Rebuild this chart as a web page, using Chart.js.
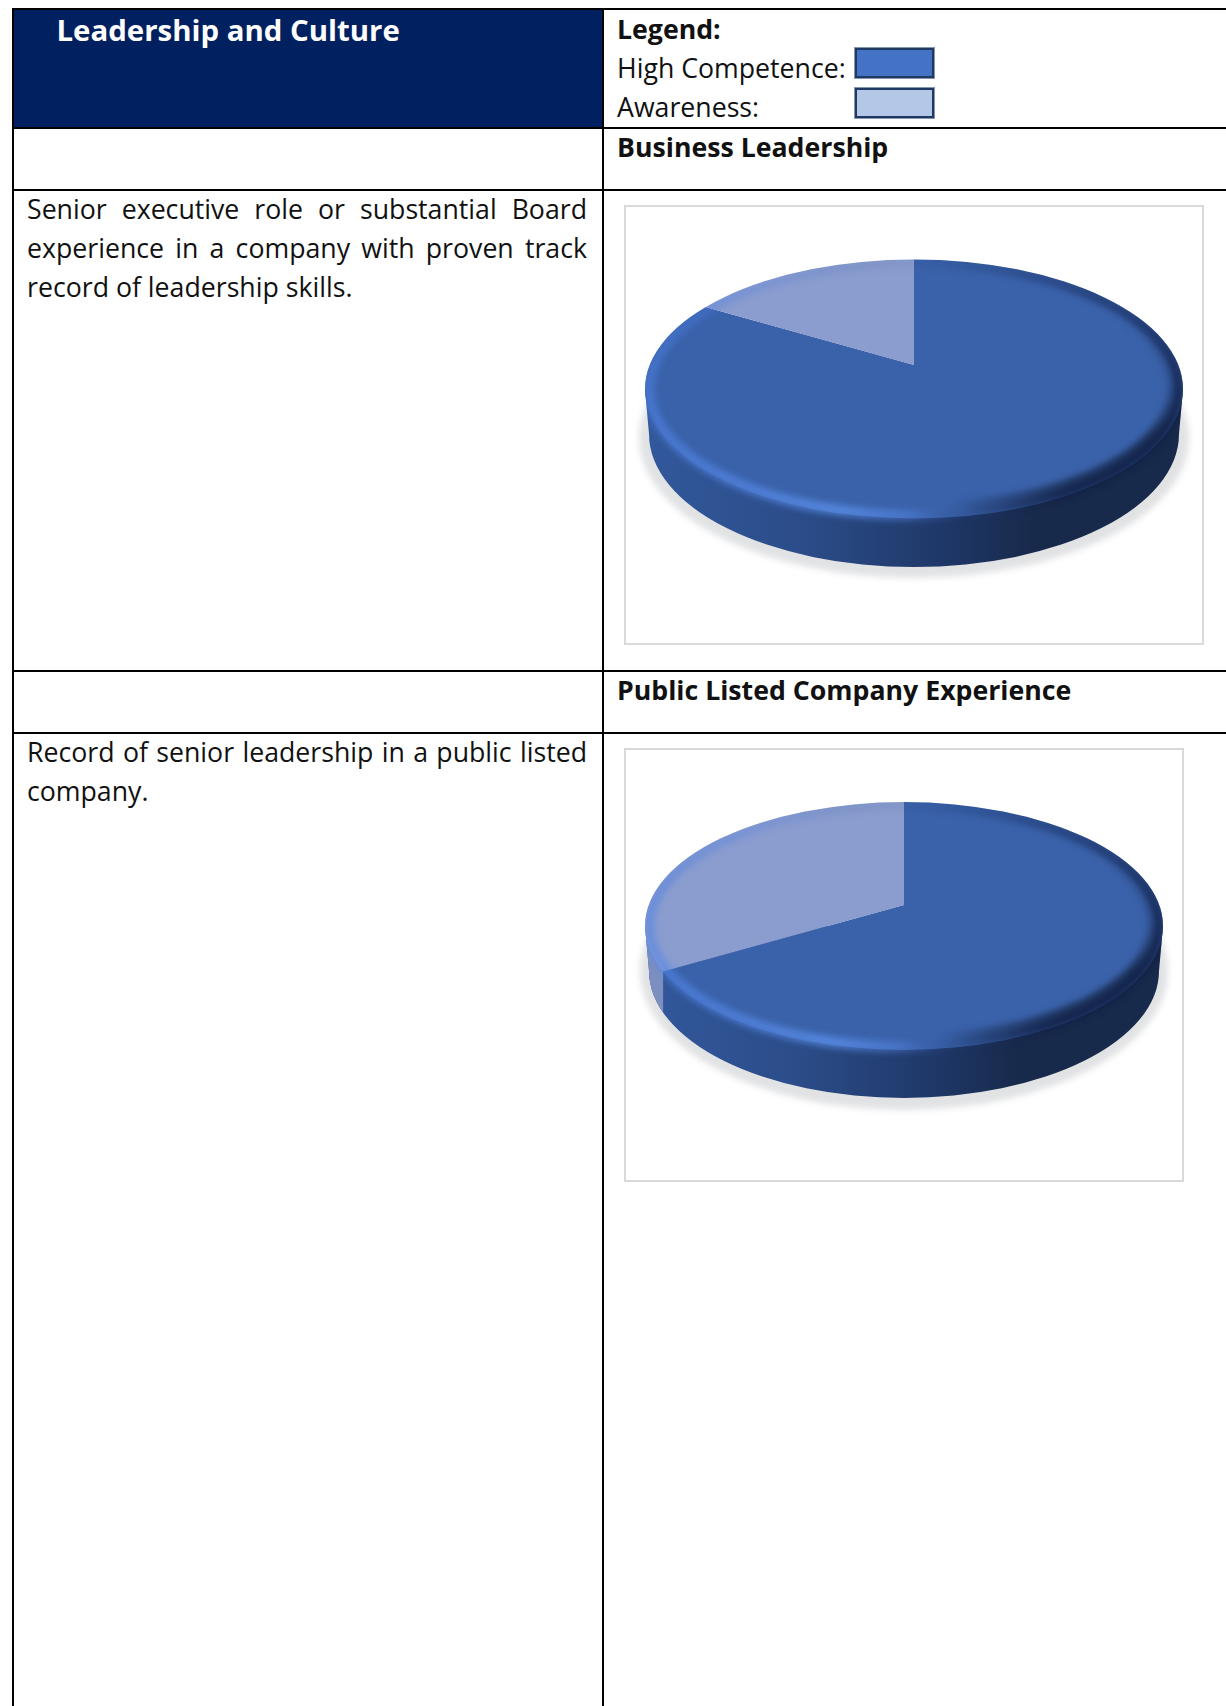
<!DOCTYPE html>
<html>
<head>
<meta charset="utf-8">
<title>Leadership and Culture</title>
<script src="https://cdn.jsdelivr.net/npm/chart.js@4"></script>
<style>
  html, body { margin: 0; width: 1226px; height: 1706px; background: #fff; overflow: hidden; }
  body { position: relative; font-family: "Open Sans", sans-serif; color: #111; }
  .rule { position: absolute; background: #000; }
  .text { position: absolute; white-space: nowrap; font-size: 26.7px; line-height: 39px; }
  .bold { font-weight: 700; }
  .justified { width: 560px; text-align: justify; text-align-last: justify; white-space: normal; }
  .navy { position: absolute; left: 13px; top: 9px; width: 590px; height: 119px; background: #002060; }
  .swatch { position: absolute; left: 855px; width: 75px; height: 26px; border: 2px solid #1f3864; box-shadow: 0 0 0 1px #8496b0; }
  .frame { position: absolute; box-sizing: border-box; border: 2px solid #d9d9d9; background: #fff; }
  .frame canvas { position: absolute; left: -2px; top: -2px; }
</style>
</head>
<body>
  <div class="navy"></div>
  <div class="rule" style="left:12px;top:8px;width:1214px;height:2px"></div>
  <div class="rule" style="left:12px;top:127px;width:1214px;height:2px"></div>
  <div class="rule" style="left:12px;top:189px;width:1214px;height:2px"></div>
  <div class="rule" style="left:12px;top:670px;width:1214px;height:2px"></div>
  <div class="rule" style="left:12px;top:732px;width:1214px;height:2px"></div>
  <div class="rule" style="left:12px;top:8px;width:2px;height:1698px"></div>
  <div class="rule" style="left:602px;top:8px;width:2px;height:1698px"></div>

  <div class="text bold" style="left:56.5px;top:11px;color:#fff;font-size:29.4px">Leadership and Culture</div>
  <div class="text bold" style="left:617px;top:9px">Legend:</div>
  <div class="text" style="left:617px;top:48px" id="legendHigh"></div>
  <div class="swatch" style="top:48px;background:#4472c4"></div>
  <div class="text" style="left:617px;top:87px" id="legendAware"></div>
  <div class="swatch" style="top:88px;background:#b4c7e7"></div>

  <div class="text bold" style="left:617px;top:127px" id="title1"></div>
  <div class="text justified" style="left:27px;top:189px">Senior executive role or substantial Board</div>
  <div class="text justified" style="left:27px;top:228px">experience in a company with proven track</div>
  <div class="text" style="left:27px;top:267px">record of leadership skills.</div>
  <div class="frame" style="left:624px;top:205px;width:580px;height:440px"><canvas id="pieOne" width="580" height="440"></canvas></div>

  <div class="text bold" style="left:617px;top:670px" id="title2"></div>
  <div class="text justified" style="left:27px;top:732px">Record of senior leadership in a public listed</div>
  <div class="text" style="left:27px;top:771px">company.</div>
  <div class="frame" style="left:624px;top:748px;width:560px;height:434px"><canvas id="pieTwo" width="560" height="434"></canvas></div>

<script>
// Skill categories and the director counts behind each pie
const categories = ['High Competence', 'Awareness'];
const businessLeadership = [5, 1];
const publicListedExperience = [4, 2];
const chartTitles = ['Business Leadership', 'Public Listed Company Experience'];

const faceColors = ['#3a62aa', '#8b9dcf'];

document.getElementById('legendHigh').textContent = categories[0] + ':';
document.getElementById('legendAware').textContent = categories[1] + ':';
document.getElementById('title1').textContent = chartTitles[0];
document.getElementById('title2').textContent = chartTitles[1];

// Extrudes a pie into a shallow tilted disc: ground shadow and wall go underneath,
// the slices are squashed into the top face, and a soft bevel goes over the rim.
const discPlugin = {
  id: 'disc',
  beforeDatasetsDraw(chart, args, o) {
    const ctx = chart.ctx;
    const arc = chart.getDatasetMeta(0).data[0];
    const k = o.ry / o.rx;

    // Soft shadow on the ground
    ctx.save();
    ctx.filter = 'blur(3px)';
    ctx.fillStyle = '#e1e2e4';
    ctx.beginPath();
    ctx.ellipse(o.cx, o.shadowY, o.shadowRx, o.shadowRy, 0, 0, Math.PI * 2);
    ctx.fill();
    ctx.restore();

    const wallPath = () => {
      ctx.beginPath();
      ctx.moveTo(o.cx - o.rx, o.cy);
      ctx.lineTo(o.cx - o.rx2, o.cy2);
      ctx.ellipse(o.cx, o.cy2, o.rx2, o.ry2, 0, Math.PI, 0, true);
      ctx.lineTo(o.cx + o.rx, o.cy);
      ctx.closePath();
    };

    // Dark wall, lit from the left
    const wall = ctx.createLinearGradient(o.cx - o.rx, 0, o.cx + o.rx, 0);
    wall.addColorStop(0, '#32589c');
    wall.addColorStop(0.3, '#2b4c88');
    wall.addColorStop(0.55, '#1f3869');
    wall.addColorStop(0.72, '#182a4c');
    wall.addColorStop(1, '#172a4b');
    ctx.fillStyle = wall;
    wallPath();
    ctx.fill();

    // Where the lighter slice reaches the front of the disc, its wall shows too
    const last = chart.getDatasetMeta(0).data[1];
    const dx = Math.cos(last.startAngle), dy = k * Math.sin(last.startAngle);
    const ay = o.apexY - o.cy;
    const A = dx * dx / (o.rx * o.rx) + dy * dy / (o.ry * o.ry);
    const B = 2 * ay * dy / (o.ry * o.ry);
    const C = ay * ay / (o.ry * o.ry) - 1;
    const t = (-B + Math.sqrt(B * B - 4 * A * C)) / (2 * A);
    const hitX = o.cx + t * dx, hitY = o.apexY + t * dy;
    if (hitY > o.cy) {
      ctx.save();
      ctx.beginPath();
      ctx.rect(0, 0, hitX, chart.height);
      ctx.clip();
      ctx.fillStyle = '#7c8fc0';
      wallPath();
      ctx.fill();
      ctx.restore();
    }

    // Everything the library draws next lands on the squashed top face
    ctx.save();
    ctx.beginPath();
    ctx.ellipse(o.cx, o.cy, o.rx, o.ry, 0, 0, Math.PI * 2);
    ctx.clip();
    ctx.translate(o.cx, o.apexY);
    ctx.scale(1, k);
    ctx.translate(-arc.x, -arc.y);
  },
  afterDatasetsDraw(chart, args, o) {
    const ctx = chart.ctx;
    ctx.restore();

    const conic = stops => {
      const g = ctx.createConicGradient(0, o.cx, o.cy);
      stops.forEach(([p, c]) => g.addColorStop(p, c));
      return g;
    };

    ctx.save();
    // The bevel may spill softly onto the wall, but never past the silhouette
    ctx.beginPath();
    ctx.ellipse(o.cx, o.cy, o.rx, o.ry, 0, Math.PI, 0);
    ctx.lineTo(o.cx + o.rx2, o.cy2);
    ctx.ellipse(o.cx, o.cy2, o.rx2, o.ry2, 0, 0, Math.PI);
    ctx.closePath();
    ctx.clip();
    ctx.filter = 'blur(3px)';

    // Broad shade where the lower right of the face rolls into the wall
    ctx.strokeStyle = conic([
      [0, 'rgba(24,42,76,0.25)'], [0.03, 'rgba(24,42,76,0.8)'], [0.08, 'rgba(24,42,76,0.8)'],
      [0.15, 'rgba(24,42,76,0.35)'], [0.2, 'rgba(24,42,76,0)'], [0.95, 'rgba(24,42,76,0)'],
      [1, 'rgba(24,42,76,0.25)']
    ]);
    ctx.lineWidth = 16;
    ctx.beginPath();
    ctx.ellipse(o.cx, o.cy, o.rx - 8, o.ry - 8, 0, 0, Math.PI * 2);
    ctx.stroke();

    // Bevel around the face: cool highlight at lower left, shade at right
    ctx.strokeStyle = conic([
      [0, 'rgba(14,28,66,0.7)'], [0.1, 'rgba(14,28,66,0.62)'], [0.19, 'rgba(40,70,130,0.25)'],
      [0.26, 'rgba(90,140,235,0.45)'], [0.34, 'rgba(100,155,250,0.62)'], [0.5, 'rgba(80,130,230,0.55)'],
      [0.6, 'rgba(70,120,220,0.2)'], [0.75, 'rgba(30,60,110,0.06)'], [0.88, 'rgba(20,40,90,0.35)'],
      [1, 'rgba(14,28,66,0.7)']
    ]);
    ctx.lineWidth = 11;
    ctx.beginPath();
    ctx.ellipse(o.cx, o.cy, o.rx - 4, o.ry - 3, 0, 0, Math.PI * 2);
    ctx.stroke();
    ctx.restore();
  }
};

function makePie(id, values, disc) {
  return new Chart(document.getElementById(id), {
    type: 'pie',
    data: {
      labels: categories,
      datasets: [{ data: values, backgroundColor: faceColors, borderWidth: 0, clip: false, radius: disc.rx * 1.35 }]
    },
    plugins: [discPlugin],
    options: {
      responsive: false,
      animation: false,
      plugins: { legend: { display: false }, tooltip: { enabled: false }, disc }
    }
  });
}

makePie('pieOne', businessLeadership, {
  cx: 290, cy: 184, rx: 269, ry: 129.5, apexY: 160,
  cy2: 229, rx2: 265, ry2: 133,
  shadowY: 233, shadowRx: 275, shadowRy: 140
});
makePie('pieTwo', publicListedExperience, {
  cx: 280, cy: 178, rx: 259, ry: 124, apexY: 157,
  cy2: 223, rx2: 255, ry2: 127,
  shadowY: 223, shadowRx: 264, shadowRy: 139
});
</script>
</body>
</html>
